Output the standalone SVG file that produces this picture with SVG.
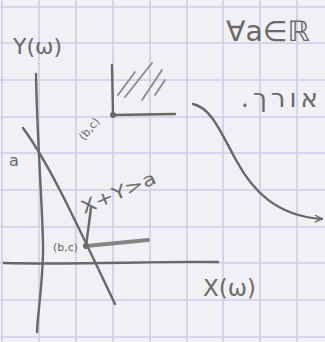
<svg xmlns="http://www.w3.org/2000/svg" width="325" height="342" viewBox="0 0 325 342">
<defs>
<style>
.grid{stroke:#cbcde8;stroke-width:1.6;fill:none}
.ink{stroke:#686868;stroke-width:2.4;fill:none;stroke-linecap:round;stroke-linejoin:round}
.soft{stroke:#8a8a8a;stroke-width:1.8;fill:none;stroke-linecap:round}
.lbl{font-family:"DejaVu Sans","Liberation Sans",sans-serif;fill:#6a6a6a}
</style>
<marker id="open" viewBox="0 0 10 10" refX="9" refY="5" markerWidth="9" markerHeight="9" orient="auto" markerUnits="userSpaceOnUse">
<path d="M1,1 L9,5 L1,9" fill="none" stroke="#686868" stroke-width="1.4"/>
</marker>
</defs>
<rect width="325" height="342" fill="#f1f0f4"/>
<g id="grid" class="grid">
<path d="M2,0V342M39,0V342M76,0V342M113,0V342M150,0V342M187,0V342M223,0V342M260,0V342M297,0V342"/>
<path d="M0,7H325M0,43H325M0,80H325M0,117H325M0,153H325M0,190H325M0,227H325M0,263H325M0,300H325M0,337H325"/>
</g>
<g id="connectors">
<path class="ink" d="M36,74 C37,140 44,230 43,254 C42,290 38,310 37,332"/>
<path class="ink" stroke-width="2.8" d="M4,263 C80,265 150,261 218,262"/>
<path class="ink" d="M23,128 C50,165 75,220 115,304"/>
<path class="ink" d="M193,104 C212,108 222,135 236,160 C252,190 276,216 322,219" marker-end="url(#open)"/>
</g>
<g id="upper-region">
<path class="ink" d="M112,65 L113,115 L175,114"/>
<circle cx="113" cy="115" r="3" fill="#686868"/>
<path class="soft" d="M118,95 L135,72 M125,97 L152,63 M142,100 L162,70 M155,95 L165,80"/>
<text class="lbl" font-size="11" transform="translate(84,141) rotate(-50)">(b,c)</text>
</g>
<g id="lower-point">
<path stroke="#858585" stroke-width="4" stroke-linecap="round" fill="none" d="M86,246 L148,240"/>
<path class="ink" stroke-width="2" d="M86,246 L91,208"/>
<circle cx="86" cy="246" r="3" fill="#686868"/>
<text class="lbl" font-size="11" x="53" y="251">(b,c)</text>
</g>
<g id="labels">
<text class="lbl" font-size="22" x="13" y="54">Y(ω)</text>
<text class="lbl" font-size="23" x="203" y="296">X(ω)</text>
<text class="lbl" font-size="16" x="9" y="166">a</text>
<text class="lbl" font-size="18" transform="translate(84,214) rotate(-23)" textLength="80" lengthAdjust="spacingAndGlyphs">X+Y&gt;a</text>
<text class="lbl" font-size="28" x="226" y="41" textLength="84" lengthAdjust="spacingAndGlyphs">∀a∈ℝ</text>
<text class="lbl" font-size="26" x="322" y="107" direction="rtl" text-anchor="start" letter-spacing="4">אורך.</text>
</g>
</svg>
